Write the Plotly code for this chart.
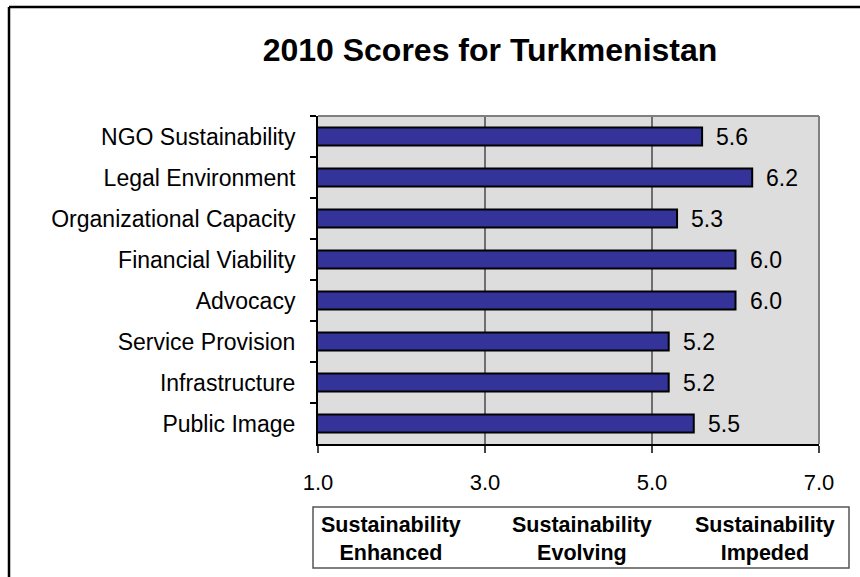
import plotly.graph_objects as go

categories = ['NGO Sustainability', 'Legal Environment', 'Organizational Capacity',
              'Financial Viability', 'Advocacy', 'Service Provision',
              'Infrastructure', 'Public Image']
scores = [5.6, 6.2, 5.3, 6.0, 6.0, 5.2, 5.2, 5.5]
x_ticks = [1.0, 3.0, 5.0, 7.0]
zones = ['Sustainability<br>Enhanced', 'Sustainability<br>Evolving', 'Sustainability<br>Impeded']

W, H = 860, 577
L, R, T, B = 318, 819, 116, 444
FONT = 'Arial, Liberation Sans, sans-serif'


def px(x):
    return (x - L) / (R - L)


def py(y):
    return (B - y) / (B - T)


fig = go.Figure(go.Bar(
    x=scores,
    y=categories,
    orientation='h',
    width=0.44,
    marker=dict(color='#333399', line=dict(color='black', width=2)),
    hoverinfo='x+y',
))

# value labels next to the bars
for c, v in zip(categories, scores):
    fig.add_annotation(x=v, y=c, text=f'{v:.1f}', showarrow=False,
                       xanchor='left', xshift=12, font=dict(size=23, color='black'))

# zone box under the axis
fig.add_shape(type='rect', xref='paper', yref='paper',
              x0=px(313), x1=px(849), y0=py(568), y1=py(507),
              line=dict(color='#555555', width=1.5))
for xc, label in zip([391, 582, 765], zones):
    fig.add_annotation(xref='paper', yref='paper', x=px(xc), y=py(539),
                       xanchor='center', yanchor='middle',
                       text=f'<b>{label}</b>', showarrow=False,
                       font=dict(size=21.5, color='black'), align='center')

# gray top/right frame of plot area
fig.add_shape(type='line', xref='paper', yref='paper', x0=0, x1=1, y0=1, y1=1,
              line=dict(color='#808080', width=2))
fig.add_shape(type='line', xref='paper', yref='paper', x0=1, x1=1, y0=0, y1=1,
              line=dict(color='#808080', width=2))

# outer chart border (left and top only visible)
fig.add_shape(type='line', xref='paper', yref='paper',
              x0=px(9), x1=px(9), y0=py(580), y1=py(7), line=dict(color='black', width=2.5))
fig.add_shape(type='line', xref='paper', yref='paper',
              x0=px(9), x1=px(870), y0=py(7), y1=py(7), line=dict(color='black', width=2.5))

fig.update_layout(
    width=W, height=H,
    margin=dict(l=L, r=W - R, t=T, b=H - B),
    paper_bgcolor='white',
    plot_bgcolor='#DDDDDD',
    font=dict(family=FONT, color='black'),
    showlegend=False,
    title=dict(text='<b>2010 Scores for Turkmenistan</b>', x=490 / W, xanchor='center',
               y=1 - 50 / H, yanchor='middle', yref='container',
               font=dict(size=32, color='black')),
    xaxis=dict(range=[1, 7], tickvals=x_ticks, tickformat='.1f',
               showgrid=True, gridcolor='#6e6e6e', gridwidth=1.5,
               showline=True, linecolor='black', linewidth=2,
               ticks='outside', ticklen=7, tickcolor='#444444', tickwidth=1.5,
               tickfont=dict(size=22), ticklabelstandoff=11, zeroline=False,
               fixedrange=True),
    yaxis=dict(autorange='reversed', tickson='boundaries', showgrid=False,
               showline=True, linecolor='black', linewidth=2,
               ticks='outside', ticklen=6, tickcolor='black', tickwidth=1.5,
               tickfont=dict(size=23), ticklabelstandoff=16, fixedrange=True),
)

fig.write_html("out.html", config={'displayModeBar': False},
               post_script="document.body.style.margin='0';")
